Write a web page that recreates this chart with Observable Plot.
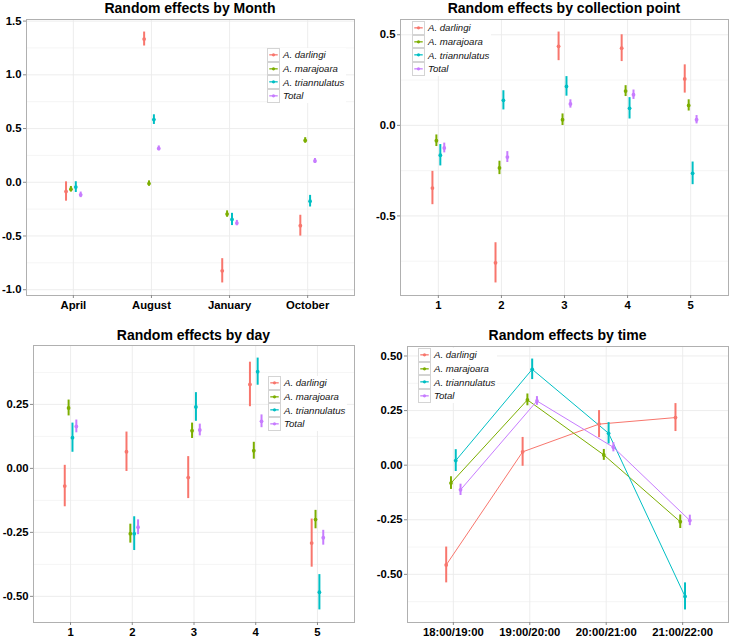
<!DOCTYPE html>
<html>
<head>
<meta charset="utf-8">
<script src="https://cdn.jsdelivr.net/npm/d3@7"></script>
<script src="https://cdn.jsdelivr.net/npm/@observablehq/plot@0.6"></script>
<style>
  html, body { margin: 0; padding: 0; background: #fff; }
  #root { position: relative; width: 731px; height: 638px; overflow: hidden; font-family: "Liberation Sans", Arial, Helvetica, sans-serif; }
  .panel { position: absolute; }
  .title { position: absolute; font-weight: bold; font-size: 14px; line-height: 16px; white-space: nowrap; transform: translateX(-50%); color: #000; }
  .legend { position: absolute; background: #fff; font-style: italic; font-size: 9.6px; color: #111; }
  .legend .row { display: flex; align-items: center; height: 13.7px; }
  .legend .key { width: 13px; height: 13.7px; box-sizing: border-box; border: 1px solid #d4d4d4; border-top-width: 0.5px; border-bottom-width: 0.5px; background: #fff; display: block; }
  .legend .lab { padding-left: 3px; padding-right: 2px; white-space: nowrap; }
</style>
</head>
<body>
<div id="root"></div>
<script>
// ---------- data ----------
const seriesNames = ["A. darlingi", "A. marajoara", "A. triannulatus", "Total"];
const seriesColors = ["#F8766D", "#7CAE00", "#00BFC4", "#C77CFF"];
const dodgeOffsets = [-0.09375, -0.03125, 0.03125, 0.09375];

// Month
const monthCats = ["April", "August", "January", "October"];
const monthDarlingi = [-0.086, 1.333, -0.824, -0.404];
const monthDarlingiErr = [0.09, 0.065, 0.113, 0.097];
const monthMarajoara = [-0.065, -0.012, -0.296, 0.389];
const monthMarajoaraErr = [0.026, 0.025, 0.03, 0.026];
const monthTriannulatus = [-0.045, 0.583, -0.346, -0.176];
const monthTriannulatusErr = [0.05, 0.045, 0.057, 0.054];
const monthTotal = [-0.117, 0.315, -0.38, 0.198];
const monthTotalErr = [0.026, 0.023, 0.025, 0.023];
const monthYTicks = [-1, -0.5, 0, 0.5, 1, 1.5];
const monthYMinor = [-0.75, -0.25, 0.25, 0.75, 1.25];

// Collection point
const pointCats = ["1", "2", "3", "4", "5"];
const pointDarlingi = [-0.346, -0.759, 0.436, 0.426, 0.256];
const pointDarlingiErr = [0.092, 0.111, 0.079, 0.074, 0.078];
const pointMarajoara = [-0.085, -0.235, 0.031, 0.189, 0.11];
const pointMarajoaraErr = [0.032, 0.037, 0.032, 0.03, 0.031];
const pointTriannulatus = [-0.165, 0.138, 0.215, 0.094, -0.265];
const pointTriannulatusErr = [0.059, 0.053, 0.054, 0.059, 0.0625];
const pointTotal = [-0.125, -0.175, 0.118, 0.169, 0.031];
const pointTotalErr = [0.027, 0.03, 0.023, 0.026, 0.023];
const pointYTicks = [-0.5, 0, 0.5];
const pointYMinor = [-0.75, -0.25, 0.25];

// Day
const dayCats = ["1", "2", "3", "4", "5"];
const dayDarlingi = [-0.069, 0.065, -0.036, 0.328, -0.292];
const dayDarlingiErr = [0.081, 0.077, 0.082, 0.087, 0.094];
const dayMarajoara = [0.236, -0.255, 0.147, 0.069, -0.2];
const dayMarajoaraErr = [0.031, 0.037, 0.03, 0.033, 0.036];
const dayTriannulatus = [0.12, -0.255, 0.24, 0.378, -0.484];
const dayTriannulatusErr = [0.057, 0.066, 0.056, 0.053, 0.069];
const dayTotal = [0.164, -0.23, 0.15, 0.184, -0.271];
const dayTotalErr = [0.025, 0.029, 0.023, 0.025, 0.029];
const dayYTicks = [-0.5, -0.25, 0, 0.25];
const dayYMinor = [-0.375, -0.125, 0.125, 0.375];

// Time
const timeCats = ["18:00/19:00", "19:00/20:00", "20:00/21:00", "21:00/22:00"];
const timeDarlingi = [-0.457, 0.061, 0.188, 0.218];
const timeDarlingiErr = [0.082, 0.066, 0.062, 0.064];
const timeMarajoara = [-0.082, 0.299, 0.047, -0.259];
const timeMarajoaraErr = [0.029, 0.027, 0.025, 0.031];
const timeTriannulatus = [0.021, 0.439, 0.146, -0.601];
const timeTriannulatusErr = [0.05, 0.047, 0.049, 0.062];
const timeTotal = [-0.113, 0.294, 0.082, -0.253];
const timeTotalErr = [0.026, 0.02, 0.021, 0.024];
const timeYTicks = [-0.5, -0.25, 0, 0.25, 0.5];
const timeYMinor = [-0.625, -0.375, -0.125, 0.125, 0.375];

// ---------- drawing ----------
const root = document.getElementById("root");

function buildRows(cats, estArrays, errArrays) {
  const rows = [];
  estArrays.forEach((est, k) => {
    est.forEach((v, i) => {
      rows.push({
        series: seriesNames[k],
        x: i + 1 + dodgeOffsets[k],
        y: v,
        lo: v - errArrays[k][i],
        hi: v + errArrays[k][i]
      });
    });
  });
  return rows;
}

function panel(cfg) {
  const rows = buildRows(cfg.cats, cfg.est, cfg.err);
  const lo = d3.min(rows, d => d.lo), hi = d3.max(rows, d => d.hi);
  const pad = (hi - lo) * 0.05;
  const n = cfg.cats.length;
  const xTicks = d3.range(1, n + 1);
  const marks = [
    Plot.ruleY(cfg.yMinor, {stroke: "#f3f3f3", strokeWidth: 0.8}),
    Plot.ruleY(cfg.yTicks, {stroke: "#ebebeb", strokeWidth: 0.9}),
    Plot.ruleX(xTicks, {stroke: "#ebebeb", strokeWidth: 0.9}),
    Plot.frame({stroke: "#b0b0b0", strokeWidth: 1}),
    Plot.axisX({ticks: xTicks, tickFormat: d => cfg.cats[d - 1], tickSize: 3, tickPadding: 2, stroke: "#8a8a8a", fill: "#000", fontWeight: "bold", fontSize: 11.3, label: null}),
    Plot.axisY({ticks: cfg.yTicks, tickFormat: d => d.toFixed(cfg.digits), tickSize: 3, tickPadding: 2, stroke: "#8a8a8a", fill: "#000", fontWeight: "bold", fontSize: 11.3, label: null})
  ];
  if (cfg.lines) {
    marks.push(Plot.line(rows, {x: "x", y: "y", z: "series", stroke: "series", strokeWidth: 1}));
  }
  marks.push(Plot.ruleX(rows, {x: "x", y1: "lo", y2: "hi", stroke: "series", strokeWidth: 2}));
  marks.push(Plot.dot(rows, {x: "x", y: "y", fill: "series", r: 1.9}));
  const svg = Plot.plot({
    width: cfg.width,
    height: cfg.height,
    marginTop: cfg.m[0], marginRight: cfg.m[1], marginBottom: cfg.m[2], marginLeft: cfg.m[3],
    style: {fontFamily: "'Liberation Sans', Arial, Helvetica, sans-serif", background: "#fff", overflow: "visible"},
    x: {domain: [0.4, n + 0.6], label: null},
    y: {domain: [lo - pad, hi + pad], label: null},
    color: {domain: seriesNames, range: seriesColors},
    marks
  });
  const wrap = document.createElement("div");
  wrap.className = "panel";
  wrap.style.left = cfg.left + "px";
  wrap.style.top = cfg.top + "px";
  wrap.appendChild(svg);
  root.appendChild(wrap);

  const t = document.createElement("div");
  t.className = "title";
  t.textContent = cfg.title;
  t.style.left = (cfg.left + cfg.m[3] + (cfg.width - cfg.m[1] - cfg.m[3]) / 2) + "px";
  t.style.top = cfg.titleTop + "px";
  root.appendChild(t);

  const lg = document.createElement("div");
  lg.className = "legend";
  lg.style.left = cfg.legend[0] + "px";
  lg.style.top = cfg.legend[1] + "px";
  seriesNames.forEach((s, k) => {
    const row = document.createElement("div");
    row.className = "row";
    const c = seriesColors[k];
    row.innerHTML = `<svg class="key" width="13" height="13.7" viewBox="0 0 13 13.7"><line x1="1.5" x2="11.5" y1="6.85" y2="6.85" stroke="${c}" stroke-width="1.5"/><circle cx="6.5" cy="6.85" r="1.9" fill="${c}"/></svg><span class="lab">${s}</span>`;
    lg.appendChild(row);
  });
  root.appendChild(lg);
}

panel({
  title: "Random effects by Month", titleTop: 0,
  left: 0, top: 0, width: 365, height: 319, m: [19, 11, 24, 26],
  cats: monthCats,
  est: [monthDarlingi, monthMarajoara, monthTriannulatus, monthTotal],
  err: [monthDarlingiErr, monthMarajoaraErr, monthTriannulatusErr, monthTotalErr],
  yTicks: monthYTicks, yMinor: monthYMinor, digits: 1,
  legend: [267, 48]
});

panel({
  title: "Random effects by collection point", titleTop: 0,
  left: 365, top: 0, width: 366, height: 319, m: [19, 3, 24, 35],
  cats: pointCats,
  est: [pointDarlingi, pointMarajoara, pointTriannulatus, pointTotal],
  err: [pointDarlingiErr, pointMarajoaraErr, pointTriannulatusErr, pointTotalErr],
  yTicks: pointYTicks, yMinor: pointYMinor, digits: 1,
  legend: [412, 21]
});

panel({
  title: "Random effects by day", titleTop: 327,
  left: 0, top: 319, width: 365, height: 319, m: [26, 11, 16, 33],
  cats: dayCats,
  est: [dayDarlingi, dayMarajoara, dayTriannulatus, dayTotal],
  err: [dayDarlingiErr, dayMarajoaraErr, dayTriannulatusErr, dayTotalErr],
  yTicks: dayYTicks, yMinor: dayYMinor, digits: 2,
  legend: [268, 376]
});

panel({
  title: "Random effects by time", titleTop: 327,
  left: 365, top: 319, width: 366, height: 319, m: [27, 3, 16, 42],
  cats: timeCats,
  est: [timeDarlingi, timeMarajoara, timeTriannulatus, timeTotal],
  err: [timeDarlingiErr, timeMarajoaraErr, timeTriannulatusErr, timeTotalErr],
  yTicks: timeYTicks, yMinor: timeYMinor, digits: 2,
  lines: true,
  legend: [418, 348]
});
</script>
</body>
</html>
